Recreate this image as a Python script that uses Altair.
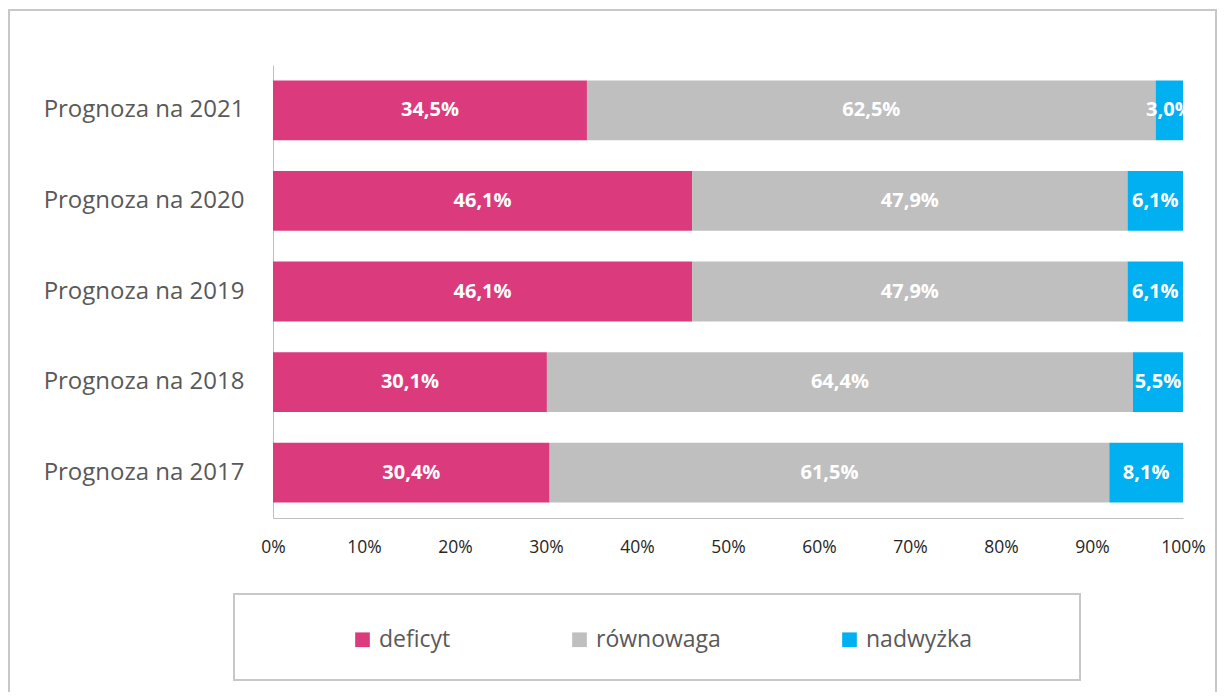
import altair as alt
import pandas as pd

years = ["Prognoza na 2021", "Prognoza na 2020", "Prognoza na 2019", "Prognoza na 2018", "Prognoza na 2017"]
categories = ["deficyt", "równowaga", "nadwyżka"]
deficyt = [34.5, 46.1, 46.1, 30.1, 30.4]
rownowaga = [62.5, 47.9, 47.9, 64.4, 61.5]
nadwyzka = [3.0, 6.1, 6.1, 5.5, 8.1]
colors = ["#DB3A7C", "#BFBFBF", "#00B0F0"]
x_ticks = [i / 10 for i in range(11)]

rows = []
for i, y in enumerate(years):
    for j, (cat, vals) in enumerate(zip(categories, [deficyt, rownowaga, nadwyzka])):
        v = vals[i]
        rows.append({"year": y, "cat": cat, "order": j, "value": v,
                     "label": f"{v:.1f}".replace(".", ",") + "%"})
df = pd.DataFrame(rows)

FONT = "Open Sans"

base = alt.Chart(df).transform_stack(
    stack="value", groupby=["year"], as_=["x0", "x1"], offset="normalize",
    sort=[alt.SortField("order", order="ascending")]
).transform_calculate(mid="(datum.x0 + datum.x1) / 2")

yenc = alt.Y("year:N", sort=years, title=None,
             scale=alt.Scale(paddingInner=0.34, paddingOuter=0.17),
             axis=alt.Axis(labelFontSize=24, labelFont=FONT, labelColor="#595959",
                           labelPadding=29, labelLimit=0, ticks=False,
                           domainColor="#BFBFBF", domainWidth=1))

bars = base.mark_bar().encode(
    x=alt.X("x0:Q", scale=alt.Scale(domain=[0, 1], nice=False), title=None,
            axis=alt.Axis(values=x_ticks, format=".0%", labelFontSize=17.5, labelFont=FONT,
                          labelColor="#262626", ticks=False, grid=False, labelFlush=False,
                          domainColor="#BFBFBF", labelPadding=20)),
    x2="x1:Q",
    y=yenc,
    color=alt.Color("cat:N", scale=alt.Scale(domain=categories, range=colors),
                    legend=alt.Legend(orient="none", legendX=78, legendY=563,
                                      direction="horizontal", title=None,
                                      symbolType="square", symbolSize=215,
                                      symbolStrokeWidth=0, labelFontSize=23,
                                      labelFont=FONT, labelColor="#595959",
                                      columnPadding=117, labelOffset=5, padding=0)),
)

texts = base.mark_text(color="white", fontWeight="bold", fontSize=20, font=FONT,
                       clip=True).encode(
    x=alt.X("mid:Q"),
    y=alt.Y("year:N", sort=years),
    text="label:N",
)

frame = alt.Chart(alt.Data(values=[{}])).mark_rect(
    fill=None, stroke="#C8C8C8", strokeWidth=2
).encode(x=alt.value(-264), x2=alt.value(943), y=alt.value(-55), y2=alt.value(660))

legend_box = alt.Chart(alt.Data(values=[{}])).mark_rect(
    fill=None, stroke="#C8C8C8", strokeWidth=2
).encode(x=alt.value(-39), x2=alt.value(807), y=alt.value(529), y2=alt.value(615))

chart = alt.layer(frame, legend_box, bars, texts).properties(
    width=910, height=453,
    padding={"left": 265, "top": 57, "right": 34, "bottom": 174},
    autosize=alt.AutoSizeParams(type="none"),
).configure_view(stroke=None)

chart.save("out.html", embed_options={"renderer": "svg", "actions": False})
